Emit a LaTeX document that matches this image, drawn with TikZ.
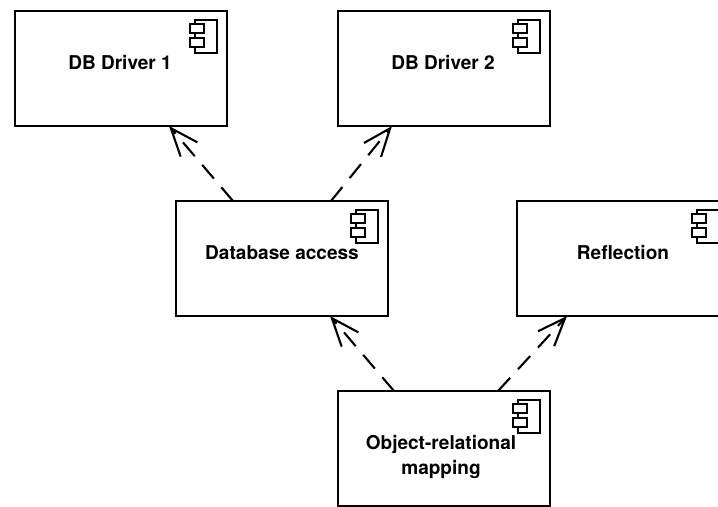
\documentclass[tikz,border=0pt]{standalone}
\usepackage{fontspec}
\setmainfont{TeX Gyre Heros}
\usetikzlibrary{arrows.meta}
\tikzset{
  comp/.style={draw=black,line width=2bp,fill=white,minimum width=212bp,minimum height=115bp,inner sep=0pt,outer sep=0pt},
  lbl/.style={font=\fontsize{19.05bp}{25bp}\selectfont\bfseries,align=center,yshift=6bp},
  lbltwo/.style={lbl,yshift=-14bp,xshift=-3bp},
  dep/.style={line width=2.1bp,dash pattern=on 18bp off 11.5bp,-{Straight Barb[length=28bp,width=22bp,line width=2.1bp]}},
  icon/.pic={
    \draw[line width=1.9bp,fill=white] (-32,9) rectangle (-10,42);
    \draw[line width=1.9bp,fill=white] (-37,13) rectangle (-23,22);
    \draw[line width=1.9bp,fill=white] (-37,27) rectangle (-23,36);
  }
}
\begin{document}
\begin{tikzpicture}[x=1bp,y=-1bp]
\clip (0,0) rectangle (718,507);
\fill[white] (0,0) rectangle (718,507);
\node[comp,label={[lbl,xshift=-1bp]center:DB Driver 1}] (d1) at (121,68.5) {};
\node[comp,label={[lbl,xshift=-1bp]center:DB Driver 2}] (d2) at (444,68.5) {};
\node[comp,label={[lbl]center:Database access}] (db) at (282,258.5) {};
\node[comp,label={[lbl]center:Reflection}] (rf) at (623,258.5) {};
\node[comp] (or) at (444,448.5) {};
\pic at (d1.north east) {icon};
\pic at (d2.north east) {icon};
\pic at (db.north east) {icon};
\pic at (rf.north east) {icon};
\pic at (or.north east) {icon};
\node[lbl,yshift=-14bp,xshift=-3bp] (ortext) at (or.center) {Object-relational\\mapping};
\draw[dep] ([xshift=57bp]db.north west) -- ([xshift=154bp]d1.south west);
\draw[dep] ([xshift=155bp]db.north west) -- ([xshift=54bp]d2.south west);
\draw[dep] ([xshift=56bp]or.north west) -- ([xshift=154bp]db.south west);
\draw[dep] ([xshift=160bp]or.north west) -- ([xshift=50bp]rf.south west);
\end{tikzpicture}
\end{document}
